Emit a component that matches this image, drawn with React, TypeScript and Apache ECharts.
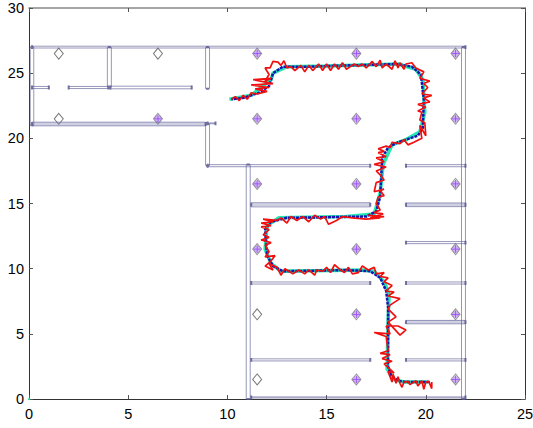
import React, { useEffect, useRef } from "react";
import * as echarts from "echarts";

const xTicks = [0, 5, 10, 15, 20, 25];
const yTicks = [0, 5, 10, 15, 20, 25, 30];

// [x1, y1, x2, y2, half-width of the double line]
const walls: number[][] = [
  [0.15, 27, 22, 27, 0.07], [0.15, 21, 0.15, 27, 0.09], [4.05, 23.9, 4.05, 27, 0.1],
  [9, 23.8, 9, 27, 0.1], [0.15, 23.9, 1, 23.9, 0.08], [2, 23.9, 4, 23.9, 0.08],
  [4.1, 23.9, 8.2, 23.9, 0.1], [0.15, 21.1, 8.9, 21.1, 0.14], [9, 17.9, 9, 21.1, 0.1],
  [9, 21.15, 9.4, 21.15, 0.03], [9, 17.9, 17.2, 17.9, 0.08], [11.05, 0, 11.05, 18, 0.1],
  [21.9, 0, 21.9, 27, 0.1], [11.2, 14.9, 17.2, 14.9, 0.16], [19, 17.9, 22, 17.9, 0.08],
  [19, 14.9, 22, 14.9, 0.14], [19, 12, 22, 12, 0.08], [11.2, 8.9, 17.2, 8.9, 0.08],
  [19, 8.9, 22, 8.9, 0.08], [19, 5.9, 22, 5.9, 0.13], [11.2, 3, 17.2, 3, 0.08],
  [19, 3, 22, 3, 0.08], [11.2, 0.12, 22, 0.12, 0.04],
];

const emptyAnchors = [[1.5, 26.5], [6.5, 26.5], [1.5, 21.5], [11.5, 6.5], [11.5, 1.5]];
const activeAnchors = [
  [11.5, 26.5], [16.5, 26.5], [21.5, 26.5], [6.5, 21.5], [11.5, 21.5], [16.5, 21.5], [21.5, 21.5],
  [11.5, 16.5], [16.5, 16.5], [21.5, 16.5], [11.5, 11.5], [16.5, 11.5], [21.5, 11.5],
  [16.5, 6.5], [21.5, 6.5], [16.5, 1.5], [21.5, 1.5],
];
const originMark = [[0, 0]];

const truePath = [
  [20.2, 1.3], [19, 1.3], [18.6, 1.4], [18.25, 1.8], [18.1, 2.5], [18.1, 7], [18, 8.3], [17.7, 9.3], [17.2, 9.8],
  [16, 9.9], [12.8, 9.8], [12.3, 10.2], [12, 11], [11.9, 13], [12.2, 13.6], [13, 13.9], [17, 14], [17.5, 14.4],
  [17.7, 15.5], [17.8, 18.5], [18.1, 19.3], [18.6, 19.7], [19.6, 20.2], [19.85, 20.8], [19.9, 23], [19.75, 24.9],
  [19.3, 25.5], [18.5, 25.7], [14, 25.5], [12.8, 25.5], [12.3, 25], [12.1, 24], [11.6, 23.5], [10.8, 23.1], [10.2, 23],
];

const filterPath = [
  [20.1, 1.3], [18.9, 1.3], [18.4, 1.5], [18.05, 2.3], [18.1, 6], [18.15, 8], [17.9, 9], [17.4, 9.8], [16.8, 9.9],
  [12.7, 9.8], [12.2, 10.4], [11.9, 11.5], [12, 13.3], [12.6, 13.9], [16, 14], [17.4, 14.2], [17.7, 15.8], [17.85, 18],
  [18.3, 19.5], [19, 19.9], [19.7, 20.5], [19.95, 22], [19.85, 24.5], [19.5, 25.3], [18.6, 25.7], [15, 25.55],
  [13, 25.5], [12.3, 25], [12.2, 24.5], [11.2, 23.3], [10.1, 23],
];

const noisyPath = [
  [20.3, 1.3], [20.3, 0.8], [20.15, 1.35], [20, 1.3], [19.9, 0.75], [19.8, 1.4], [19.6, 1], [19.5, 1.4], [19.2, 1.1],
  [19.1, 1.35], [18.9, 1.3], [18.8, 0.9], [18.7, 1.2], [18.6, 1.7], [18.5, 1.2], [18.35, 1.9], [18.3, 1.3], [18.1, 2.1],
  [18.4, 2], [17.9, 2.7], [18.3, 2.9], [17.8, 3.1], [18.2, 3.4], [17.7, 3.5], [18.1, 3.7], [18, 4.8], [17.4, 5.1],
  [18.2, 5], [18, 5.6], [18.6, 5.6], [19, 5.3], [18.7, 4.9], [18.1, 5.9], [18.5, 6.3], [18.3, 6.6], [18.1, 6.9],
  [18.2, 7.2], [18.7, 7.7], [18.1, 7.9], [18.4, 8.2], [18, 8.3], [18.3, 8.7], [17.9, 9], [18.1, 9.3], [17.7, 9.4],
  [17.9, 9.7], [17.5, 9.6], [17.4, 10.1], [17.1, 9.9], [16.8, 10.2], [16.6, 9.7], [16.3, 9.6], [16.1, 10.1],
  [15.9, 9.7], [15.7, 9.9], [15.4, 10.3], [15.2, 9.7], [15, 10.1], [14.8, 9.8], [14.5, 9.9], [14.4, 9.5], [14.1, 9.9],
  [13.9, 9.6], [13.6, 9.9], [13.3, 9.6], [13.1, 9.8], [12.9, 10], [12.7, 9.5], [12.5, 10.1], [12.1, 10.4], [12.3, 9.9],
  [11.9, 10.2], [12.2, 10.6], [12.4, 11], [11.9, 10.9], [12.1, 11.3], [11.9, 11.8], [12.2, 12], [11.7, 12.2],
  [12.1, 12.4], [11.8, 12.6], [12.1, 13], [11.7, 13.2], [12.2, 13.3], [11.7, 13.5], [12.3, 13.6], [11.8, 13.8],
  [12.5, 13.7], [12.7, 13.9], [13, 13.5], [13.2, 14], [13.5, 13.7], [13.8, 14], [14.1, 13.6], [14.4, 14.1], [14.7, 13.8],
  [14.9, 14], [15.1, 13.4], [15.5, 13.7], [15.8, 14], [16.3, 13.9], [17, 13.8], [17.7, 13.9], [17.1, 14.1],
  [17.9, 14], [17.2, 13.9], [17.85, 14.2], [17.4, 14.3], [17.7, 14.5], [17.5, 15], [17.6, 15.5], [17.9, 15.6], [17.7, 16], [17.9, 16.1], [17.4, 15.9],
  [17.5, 16.6], [17.9, 16.8], [17.7, 17.2], [17.5, 17.5], [18, 17.8], [17.4, 18], [17.9, 18.2], [17.5, 18.5],
  [18, 18.6], [17.6, 18.9], [17.9, 19], [17.6, 19.2], [18, 19.4], [18.2, 19.3], [18.3, 19.7], [18.7, 19.6], [18.9, 19.9],
  [19.1, 19.5], [19.4, 19.7], [19.8, 20], [19.7, 21], [20, 20.2], [19.95, 21.2], [19.7, 21.4], [19.8, 22],
  [19.6, 22.1], [20, 22.4], [19.6, 22.6], [20.2, 22.8], [19.9, 23.1], [20.3, 23.3], [19.8, 23.4], [20.1, 23.9],
  [19.9, 24.2], [20.2, 24.4], [19.7, 24.6], [19.9, 25.1], [19.5, 25.4], [19.3, 25.8], [19, 25.7], [18.9, 25.3], [18.7, 25.8], [18.6, 25.4],
  [18.45, 25.95], [18.3, 25.3], [18, 25.7], [17.8, 25.4], [17.7, 26], [17.5, 25.5], [17.3, 25.9], [17, 25.4], [16.8, 25.7], [16.6, 25.5], [16.4, 25.7], [16.2, 25.5], [16, 25.3],
  [15.8, 25.8], [15.6, 25.3], [15.4, 25.7], [15.2, 25.2], [15, 25.7], [14.8, 25.2], [14.6, 25.7], [14.3, 25.2], [14.1, 25.6], [13.9, 25.1],
  [13.7, 25.6], [13.4, 25.2], [13.2, 25.5], [13, 25.4], [12.85, 25.95], [12.7, 25.6], [12.55, 25.85], [12.3, 25.9], [12.15, 25.4], [11.9, 25.4], [12.1, 24.9],
  [11.9, 24.4], [12.2, 24.6], [11.3, 24.5], [12.3, 24.2], [11.2, 24.1], [12.1, 23.9], [11.4, 23.8], [12, 23.6], [11.5, 23.4],
  [11.2, 23.5], [11, 23], [10.8, 23.3], [10.6, 22.9], [10.4, 23.2], [10.2, 23],
];

function wallLines(mode: "outline" | "cap" | "core") {
  const out: (number[] | null[])[] = [];
  for (const [x1, y1, x2, y2, h] of walls) {
    const horizontal = y1 === y2;
    if (mode === "cap") {
      const c = horizontal ? 0.15 : 0.08;
      for (const [a, b] of [[x1, y1], [x2, y2]]) {
        if (horizontal) out.push([a, b - c], [a, b + c], [null, null]);
        else out.push([a - c, b], [a + c, b], [null, null]);
      }
    } else if (mode === "core") {
      if (horizontal && h >= 0.13) out.push([x1, y1], [x2, y2], [null, null]);
    } else if (horizontal) {
      out.push([x1, y1 - h], [x2, y1 - h], [null, null], [x1, y1 + h], [x2, y1 + h], [null, null]);
    } else {
      out.push([x1 - h, y1], [x1 - h, y2], [null, null], [x1 + h, y1], [x1 + h, y2], [null, null]);
    }
  }
  return out;
}

const fontFamily = "'Liberation Sans', Arial, sans-serif";

export default function App() {
  const ref = useRef<HTMLDivElement>(null);
  useEffect(() => {
    const chart = echarts.init(ref.current!, undefined, { renderer: "svg" });
    const axisBase = {
      axisLine: { onZero: false, lineStyle: { color: "#333", width: 1 } },
      axisTick: { inside: true, length: 4, lineStyle: { color: "#555" } },
      splitLine: { show: false },
    };
    chart.setOption({
      animation: false,
      backgroundColor: "#fff",
      grid: { left: 29, right: 8, top: 8, bottom: 29, outerBoundsMode: "none" },
      xAxis: [
        { ...axisBase, type: "value", min: 0, max: 25, interval: 5, position: "bottom",
          axisLabel: { color: "#000", fontSize: 14.5, fontFamily, margin: 7, hideOverlap: false, formatter: (v: number) => (xTicks.includes(v) ? String(v) : "") } },
        { ...axisBase, type: "value", min: 0, max: 25, interval: 5, position: "top",
          axisLine: { onZero: false, lineStyle: { color: "#888", width: 1.5 } }, axisLabel: { show: false } },
      ],
      yAxis: [
        { ...axisBase, type: "value", min: 0, max: 30, interval: 5, position: "left",
          axisLabel: { color: "#000", fontSize: 14.5, fontFamily, margin: 5, hideOverlap: false, formatter: (v: number) => (yTicks.includes(v) ? String(v) : "") } },
        { ...axisBase, type: "value", min: 0, max: 30, interval: 5, position: "right", axisLabel: { show: false } },
      ],
      series: [
        { type: "line", data: wallLines("core"), symbol: "none", connectNulls: false, silent: true,
          lineStyle: { color: "rgba(120,120,175,0.35)", width: 3 } },
        { type: "line", data: wallLines("outline"), symbol: "none", connectNulls: false, silent: true,
          lineStyle: { color: "rgba(96,96,150,0.65)", width: 1 } },
        { type: "line", data: wallLines("cap"), symbol: "none", connectNulls: false, silent: true,
          lineStyle: { color: "rgba(90,90,145,0.85)", width: 2 } },
        { type: "scatter", data: activeAnchors, symbol: "circle", symbolSize: 7, silent: true,
          itemStyle: { color: "rgba(170,110,245,0.7)" } },
        { type: "scatter", data: activeAnchors, symbol: "diamond", symbolSize: [9, 11], silent: true,
          itemStyle: { color: "transparent", borderColor: "#777", borderWidth: 1 } },
        { type: "scatter", data: activeAnchors, silent: true, symbol: "path://M5 0H6V11H5ZM0 5H11V6H0Z", symbolSize: 8,
          itemStyle: { color: "#8a2cf0" } },
        { type: "scatter", data: emptyAnchors, symbol: "diamond", symbolSize: [9, 11], silent: true,
          itemStyle: { color: "#fff", borderColor: "#555", borderWidth: 1 } },
        { type: "scatter", data: originMark, symbol: "circle", symbolSize: 2.5, silent: true, clip: false,
          itemStyle: { color: "#25e8b0" } },
        { type: "line", data: filterPath, symbol: "none", silent: true, lineStyle: { color: "#25e8b0", width: 3.5 } },
        { type: "line", data: truePath, symbol: "none", silent: true,
          lineStyle: { color: "#1414b4", width: 2.5, type: [3, 1] } },
        { type: "line", data: noisyPath, symbol: "none", silent: true, lineStyle: { color: "#f01010", width: 1.7 } },
      ],
    });
    return () => chart.dispose();
  }, []);
  return <div ref={ref} style={{ position: "fixed", left: 0, top: 0, width: 533, height: 428 }} />;
}
